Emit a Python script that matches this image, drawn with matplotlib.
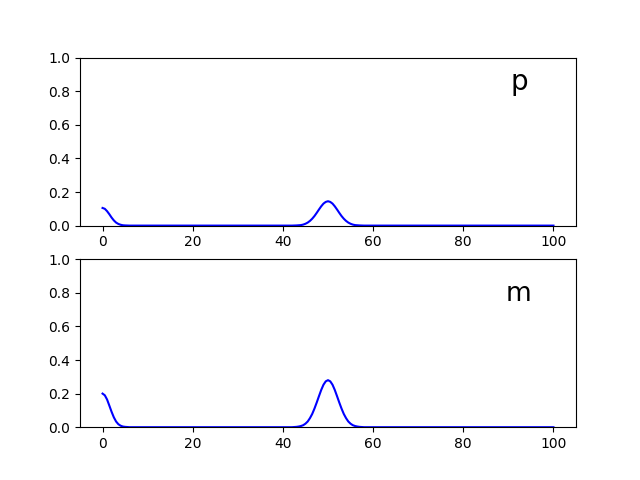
import matplotlib
matplotlib.use("Agg")
import matplotlib.pyplot as plt

# pontos (x, p, m)
x = [0, 0.5, 1, 1.5, 2, 2.5, 3, 3.5, 4, 4.5, 5, 6,
     42, 43, 43.5, 44, 44.5, 45, 45.5, 46, 46.5, 47, 47.5, 48, 48.5, 49, 49.5,
     50, 50.5, 51, 51.5, 52, 52.5, 53, 53.5, 54, 54.5, 55, 55.5, 56, 56.5, 57, 58, 100]

p = [0.105, 0.1, 0.086, 0.068, 0.048, 0.031, 0.018, 0.01, 0.005, 0.002, 0.001, 0.0,
     0.0, 0.001, 0.002, 0.003, 0.006, 0.011, 0.018, 0.028, 0.041, 0.057, 0.076, 0.096, 0.115, 0.131, 0.141,
     0.145, 0.141, 0.131, 0.115, 0.096, 0.076, 0.057, 0.041, 0.028, 0.018, 0.011, 0.006, 0.003, 0.002, 0.001, 0.0, 0.0]

m = [0.2, 0.19, 0.165, 0.129, 0.092, 0.059, 0.034, 0.018, 0.009, 0.004, 0.002, 0.0,
     0.0, 0.002, 0.004, 0.007, 0.012, 0.021, 0.034, 0.054, 0.079, 0.111, 0.147, 0.185, 0.222, 0.253, 0.273,
     0.28, 0.273, 0.253, 0.222, 0.185, 0.147, 0.111, 0.079, 0.054, 0.034, 0.021, 0.012, 0.007, 0.004, 0.002, 0.0, 0.0]

fig, (ax1, ax2) = plt.subplots(2, 1, figsize=(6.4, 4.8), dpi=100)

ax1.plot(x, p, 'b-', linewidth=1.5)
ax1.set_ylim(0, 1)
ax1.text(90.5, 0.81, 'p', fontsize=20)

ax2.plot(x, m, 'b-', linewidth=1.5)
ax2.set_ylim(0, 1)
ax2.text(89.5, 0.75, 'm', fontsize=19)

plt.savefig("out.png", dpi=100)
